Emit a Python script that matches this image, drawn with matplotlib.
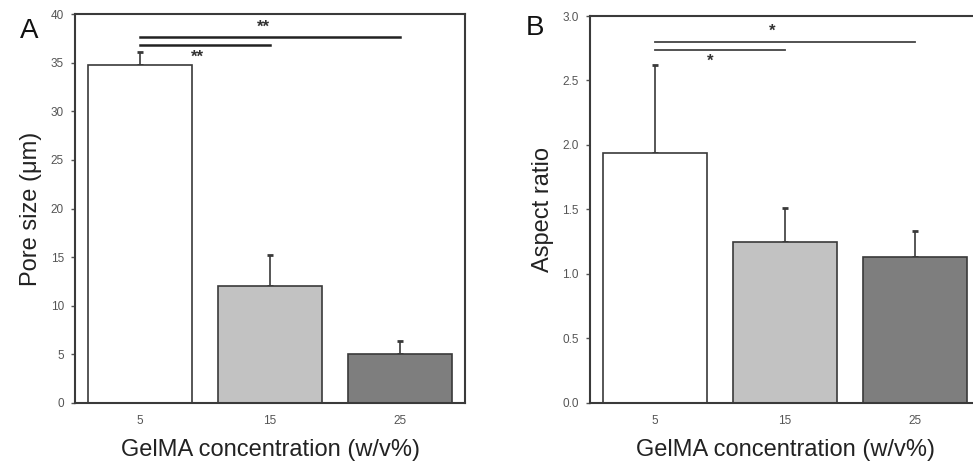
import matplotlib.pyplot as plt

plt.rcParams['font.family'] = ['Liberation Sans', 'DejaVu Sans']

concentrations = ['5', '15', '25']
pore_size = [34.8, 12.0, 5.0]
pore_err = [1.3, 3.2, 1.4]
aspect_ratio = [1.94, 1.25, 1.13]
aspect_err = [0.68, 0.26, 0.20]
bar_colors = ['#ffffff', '#c2c2c2', '#7e7e7e']

edge = '#3a3a3a'
fig = plt.figure(figsize=(9.73, 4.72), dpi=100)
ax_a = fig.add_axes([0.0771, 0.1462, 0.401, 0.8241])
ax_b = fig.add_axes([0.6064, 0.1462, 0.401, 0.8199])


def draw_panel(ax, values, errs, ylim, yticks, yticklabels, ylabel):
    x = range(len(values))
    ax.bar(x, values, width=0.8, color=bar_colors, edgecolor=edge, linewidth=1.2, zorder=2)
    ax.errorbar(x, values, yerr=[[0] * len(errs), errs], fmt='none', ecolor=edge,
                elinewidth=1.2, capsize=2, capthick=2, zorder=1)
    ax.set_xlim(-0.5, 2.5)
    ax.set_ylim(*ylim)
    ax.set_xticks(list(x))
    ax.set_xticklabels(concentrations)
    ax.set_yticks(yticks)
    ax.set_yticklabels(yticklabels)
    ax.tick_params(axis='y', direction='out', length=3, width=1, colors='#555555',
                   labelsize=8.5, pad=5)
    ax.tick_params(axis='x', direction='in', length=2, width=1, colors='#555555',
                   labelsize=8.5, pad=9)
    for s in ax.spines.values():
        s.set_color(edge)
        s.set_linewidth(1.5)
    ax.set_xlabel('GelMA concentration (w/v%)', fontsize=17, color='#222222', labelpad=8)
    ax.set_ylabel(ylabel, fontsize=17, color='#222222', labelpad=6)


# Panel A
draw_panel(ax_a, pore_size, pore_err, (0, 40), range(0, 41, 5),
           [str(v) for v in range(0, 41, 5)], 'Pore size (μm)')
ax_a.plot([0, 2], [37.6, 37.6], color='#222222', lw=1.8)
ax_a.plot([0, 1], [36.8, 36.8], color='#222222', lw=1.8)
ax_a.text(0.95, 37.9, '**', ha='center', va='bottom', fontsize=12,
          fontweight='bold', color='#333333')
ax_a.text(0.44, 36.3, '**', ha='center', va='top', fontsize=12,
          fontweight='bold', color='#333333')
fig.text(0.021, 0.935, 'A', fontsize=20, ha='left', va='center', color='#111111')

# Panel B
b_ticks = [0.0, 0.5, 1.0, 1.5, 2.0, 2.5, 3.0]
draw_panel(ax_b, aspect_ratio, aspect_err, (0, 3.0), b_ticks,
           ['%.1f' % v for v in b_ticks], 'Aspect ratio')
ax_b.plot([0, 2], [2.80, 2.80], color='#444444', lw=1.3)
ax_b.plot([0, 1], [2.74, 2.74], color='#444444', lw=1.3)
ax_b.text(0.9, 2.82, '*', ha='center', va='bottom', fontsize=12,
          fontweight='bold', color='#333333')
ax_b.text(0.42, 2.71, '*', ha='center', va='top', fontsize=12,
          fontweight='bold', color='#333333')
fig.text(0.54, 0.94, 'B', fontsize=20, ha='left', va='center', color='#111111')

plt.savefig('out.png', dpi=100)
